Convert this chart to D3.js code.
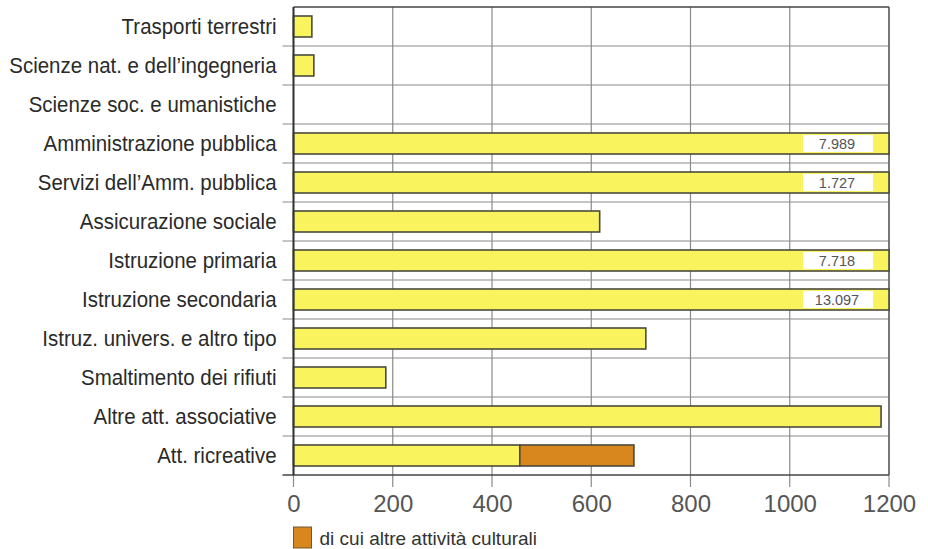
<!DOCTYPE html>
<html>
<head>
<meta charset="utf-8">
<script src="https://cdn.jsdelivr.net/npm/d3@7"></script>
<style>
  body { margin: 0; background: #fff; }
  svg { display: block; }
  .cat-label { font-family: "Liberation Sans", Arial, sans-serif; font-size: 22px; fill: #2a2a2a; }
  .tick-label { font-family: "Liberation Sans", Arial, sans-serif; font-size: 24px; fill: #555; }
  .value-label { font-family: "Liberation Sans", Arial, sans-serif; font-size: 14.5px; fill: #555; }
  .legend-label { font-family: "Liberation Sans", Arial, sans-serif; font-size: 19px; fill: #333; }
</style>
</head>
<body>
<svg id="chart"></svg>
<script>
// categories, top to bottom
const categories = [
    "Trasporti terrestri",
    "Scienze nat. e dell\u2019ingegneria",
    "Scienze soc. e umanistiche",
    "Amministrazione pubblica",
    "Servizi dell\u2019Amm. pubblica",
    "Assicurazione sociale",
    "Istruzione primaria",
    "Istruzione secondaria",
    "Istruz. univers. e altro tipo",
    "Smaltimento dei rifiuti",
    "Altre att. associative",
    "Att. ricreative"
];

// total values
const values = [37, 41, 0, 7989, 1727, 617, 7718, 13097, 710, 186, 1184, 686];

// "di cui altre attività culturali" part of each total
const culturalValues = [0, 0, 0, 0, 0, 0, 0, 0, 0, 0, 0, 230];

// labels for bars that go past the axis
const overflowLabels = ["", "", "", "7.989", "1.727", "", "7.718", "13.097", "", "", "", ""];

const xTicks = [0, 200, 400, 600, 800, 1000, 1200];
const legendText = "di cui altre attivit\u00e0 culturali";

const width = 928, height = 549;
const margin = { top: 7, right: 39, bottom: 74, left: 293.5 };
const innerW = width - margin.left - margin.right;
const innerH = height - margin.top - margin.bottom;

const svg = d3.select("#chart").attr("width", width).attr("height", height);
const chart = svg.append("g").attr("transform", `translate(${margin.left},${margin.top})`);

const xScale = d3.scaleLinear().domain([0, 1200]).range([0, innerW]).clamp(true);
const yScale = d3.scaleBand().domain(categories).range([0, innerH]).paddingInner(0).paddingOuter(0);
const barH = 21;

// vertical grid lines (extend below the axis as ticks)
chart.append("g")
    .selectAll("line")
    .data(xTicks)
    .join("line")
    .attr("x1", d => xScale(d)).attr("x2", d => xScale(d))
    .attr("y1", 0).attr("y2", innerH + 12)
    .attr("stroke", "#8a8a8a").attr("stroke-width", 1.2);

// horizontal row separators (stick out on the left)
const seps = categories.map(c => yScale(c)).concat([innerH]);
chart.append("g")
    .selectAll("line")
    .data(seps.slice(1, -1))
    .join("line")
    .attr("x1", -11).attr("x2", innerW)
    .attr("y1", d => d).attr("y2", d => d)
    .attr("stroke", "#8a8a8a").attr("stroke-width", 1.2);

// frame
chart.append("line").attr("x1", 0).attr("x2", innerW).attr("y1", 0).attr("y2", 0)
    .attr("stroke", "#444").attr("stroke-width", 1.5);
chart.append("line").attr("x1", -11).attr("x2", innerW).attr("y1", innerH).attr("y2", innerH)
    .attr("stroke", "#444").attr("stroke-width", 1.5);
chart.append("line").attr("x1", innerW).attr("x2", innerW).attr("y1", 0).attr("y2", innerH)
    .attr("stroke", "#555").attr("stroke-width", 1.3);

const rows = categories.map((c, i) => ({ cat: c, value: values[i], cult: culturalValues[i], label: overflowLabels[i] }));

const barY = d => yScale(d.cat) + (yScale.bandwidth() - barH) / 2;

// yellow part
chart.append("g")
    .selectAll("rect")
    .data(rows.filter(d => d.value > 0))
    .join("rect")
    .attr("x", 0)
    .attr("y", barY)
    .attr("width", d => xScale(d.value - d.cult))
    .attr("height", barH)
    .attr("fill", "#f9f35e")
    .attr("stroke", "#4b4a3c").attr("stroke-width", 1.6);

// orange part
chart.append("g")
    .selectAll("rect")
    .data(rows.filter(d => d.cult > 0))
    .join("rect")
    .attr("x", d => xScale(d.value - d.cult))
    .attr("y", barY)
    .attr("width", d => xScale(d.value) - xScale(d.value - d.cult))
    .attr("height", barH)
    .attr("fill", "#d8861e")
    .attr("stroke", "#4b4a3c").attr("stroke-width", 1.6);

// value boxes on overflowing bars
const labelled = rows.filter(d => d.label);
chart.append("g")
    .selectAll("rect")
    .data(labelled)
    .join("rect")
    .attr("x", innerW - 86)
    .attr("y", d => barY(d) + 2)
    .attr("width", 70)
    .attr("height", barH - 4)
    .attr("fill", "#fff");
chart.append("g")
    .selectAll("text")
    .data(labelled)
    .join("text")
    .attr("class", "value-label")
    .attr("x", innerW - 52)
    .attr("y", d => yScale(d.cat) + yScale.bandwidth() / 2)
    .attr("dy", "0.36em")
    .attr("text-anchor", "middle")
    .text(d => d.label);

// left axis (category labels), squeezed a little to look condensed
const squeeze = 0.93;
const yAxis = d3.axisLeft(yScale).tickSize(0).tickPadding(17);
const yAxisG = chart.append("g").call(yAxis);
yAxisG.select(".domain").attr("stroke", "#333").attr("stroke-width", 2).attr("d", `M0,0V${innerH}`);
yAxisG.selectAll(".tick text")
    .attr("class", "cat-label")
    .attr("font-family", null).attr("font-size", null)
    .attr("fill", null)
    .attr("dy", "0.35em")
    .attr("transform", `scale(${squeeze},1)`)
    .attr("x", -17 / squeeze);

// bottom tick labels
const xAxis = d3.axisBottom(xScale).tickValues(xTicks).tickFormat(d3.format("d")).tickSize(0).tickPadding(20);
const xAxisG = chart.append("g").attr("transform", `translate(0,${innerH})`).call(xAxis);
xAxisG.select(".domain").remove();
xAxisG.selectAll(".tick text")
    .attr("class", "tick-label")
    .attr("font-family", null).attr("font-size", null).attr("fill", null);

// legend
const legend = svg.append("g").attr("transform", `translate(${margin.left},527)`);
legend.append("rect")
    .attr("x", 0).attr("y", 0).attr("width", 18).attr("height", 21)
    .attr("fill", "#d8861e").attr("stroke", "#6b5a3a").attr("stroke-width", 1);
legend.append("text")
    .attr("class", "legend-label")
    .attr("x", 26).attr("y", 11).attr("dy", "0.36em")
    .text(legendText);
</script>
</body>
</html>
